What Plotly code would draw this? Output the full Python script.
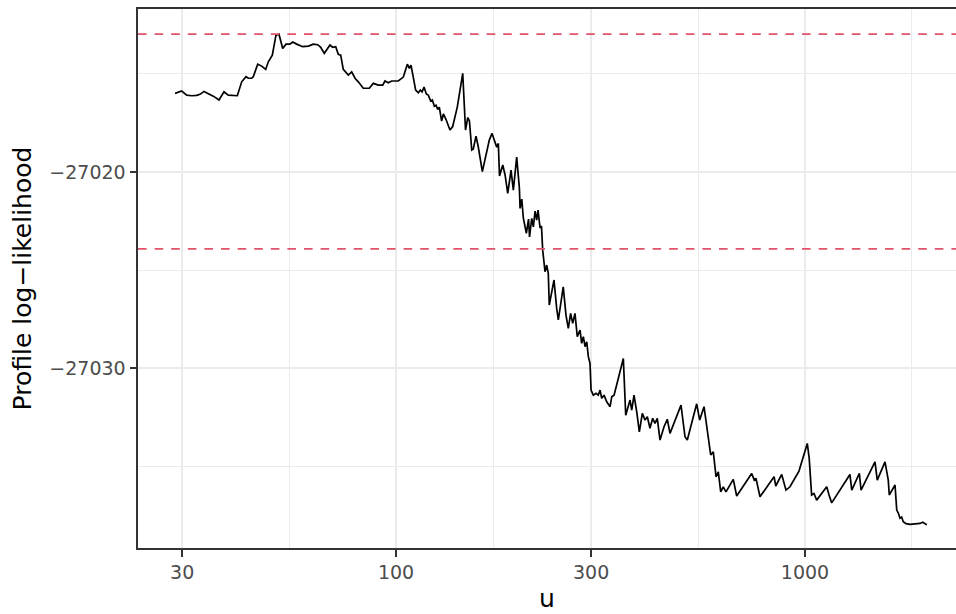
import plotly.graph_objects as go

# Threshold u and profile log-likelihood at each threshold
u = [28.83, 29.92, 30.78, 31.66, 32.56, 33.18, 33.93, 34.76, 35.75, 36.92,
     37.97, 38.90, 40.93, 41.95, 42.98, 43.54, 44.38, 44.78, 45.91, 46.95,
     48.02, 48.73, 49.84, 50.88, 51.74, 52.84, 53.83, 55.05, 55.90, 57.17,
     59.14, 61.04, 62.78, 64.36, 65.45, 66.79, 68.96, 70.02, 71.22, 72.26,
     73.25, 74.32, 76.45, 77.93, 79.40, 80.87, 83.18, 86.04, 88.02, 90.50,
     92.79, 93.99, 95.76, 97.61, 101.3, 104.2, 106.6, 107.8, 108.8, 110.2,
     111.7, 113.4, 114.7, 115.8, 117.1, 118.6, 119.9, 121.6, 122.7, 124.1,
     125.3, 126.5, 127.6, 129.3, 130.6, 132.7, 135.5, 137.6, 141.2, 145.6,
     146.9, 147.9, 149.8, 151.2, 153.2, 154.5, 156.9, 158.9, 162.6, 167.6,
     169.1, 171.7, 173.6, 176.3, 177.9, 179.1, 182.4, 184.8, 187.6, 191.1,
     193.6, 197.3, 200.3, 201.1, 203.0, 204.8, 208.3, 210.9, 212.1, 214.7,
     216.7, 218.8, 220.8, 222.5, 225.0, 226.8, 228.4, 230.1, 231.4, 233.6,
     235.7, 237.0, 243.4, 247.1, 249.4, 256.4, 260.4, 263.8, 267.3, 270.4,
     273.9, 277.5, 281.8, 284.4, 287.1, 289.9, 292.7, 295.3, 298.1, 299.9,
     303.7, 308.3, 312.3, 315.4, 318.4, 322.6, 327.5, 333.7, 336.9, 341.3,
     359.6, 364.5, 373.4, 377.0, 381.9, 387.8, 393.5, 400.2, 406.3, 411.6,
     417.8, 424.2, 429.8, 435.4, 442.1, 452.2, 460.6, 467.7, 485.7, 497.6,
     508.9, 515.5, 543.5, 552.7, 566.4, 575.1, 581.0, 588.1, 596.8, 606.0,
     613.8, 622.2, 631.2, 640.9, 667.8, 680.7, 740.8, 751.6, 758.9, 776.2,
     840.2, 848.4, 877.1, 898.5, 919.0, 966.7, 1013, 1024, 1038, 1052,
     1068, 1130, 1145, 1162, 1288, 1301, 1358, 1371, 1483, 1502,
     1569, 1598, 1607, 1660, 1676, 1691, 1707, 1723, 1739, 1766,
     1806, 1868, 1911, 1940, 1985]

loglik = [-27015.99, -27015.87, -27016.08, -27016.11, -27016.09, -27016.04, -27015.89, -27015.99, -27016.13, -27016.33,
          -27015.91, -27016.08, -27016.11, -27015.40, -27015.14, -27015.22, -27015.22, -27015.14, -27014.50, -27014.60,
          -27014.77, -27014.38, -27014.04, -27013.02, -27012.97, -27013.70, -27013.48, -27013.48, -27013.37, -27013.48,
          -27013.61, -27013.58, -27013.48, -27013.51, -27013.64, -27013.95, -27013.53, -27013.64, -27013.61, -27014.00,
          -27014.04, -27014.77, -27015.06, -27014.89, -27015.22, -27015.40, -27015.73, -27015.73, -27015.48, -27015.57,
          -27015.57, -27015.36, -27015.45, -27015.36, -27015.36, -27015.16, -27014.50, -27014.71, -27014.55, -27015.16,
          -27015.82, -27015.96, -27015.82, -27015.92, -27015.67, -27016.02, -27016.08, -27016.38, -27016.33, -27016.64,
          -27016.59, -27016.81, -27016.69, -27017.40, -27017.04, -27017.35, -27017.86, -27017.68, -27016.69, -27014.97,
          -27016.84, -27017.86, -27017.22, -27017.40, -27018.88, -27018.83, -27018.17, -27018.71, -27019.98, -27018.62,
          -27018.37, -27018.03, -27018.29, -27018.73, -27018.54, -27020.20, -27019.64, -27020.15, -27021.09, -27019.90,
          -27020.92, -27019.24, -27020.82, -27021.85, -27021.38, -27022.34, -27023.12, -27022.40, -27023.31, -27022.36,
          -27022.79, -27021.99, -27022.45, -27021.94, -27022.85, -27022.75, -27023.98, -27024.79, -27025.08, -27024.74,
          -27025.16, -27026.78, -27025.50, -27026.95, -27027.54, -27025.85, -27027.29, -27027.97, -27027.20, -27027.71,
          -27027.20, -27028.39, -27028.05, -27028.73, -27028.39, -27028.90, -27028.65, -27029.41, -27029.75, -27031.11,
          -27031.37, -27031.28, -27031.37, -27031.11, -27031.53, -27031.37, -27031.71, -27031.96, -27031.45, -27031.37,
          -27029.50, -27032.39, -27031.62, -27032.13, -27031.37, -27032.22, -27033.24, -27032.30, -27032.64, -27032.47,
          -27033.06, -27032.55, -27032.81, -27032.55, -27033.66, -27032.98, -27032.60, -27033.32, -27032.39, -27031.88,
          -27033.49, -27033.66, -27031.81, -27032.64, -27031.96, -27032.90, -27033.66, -27034.42, -27034.26, -27035.53,
          -27035.28, -27036.30, -27036.04, -27036.30, -27035.66, -27036.51, -27035.36, -27035.70, -27035.61, -27036.55,
          -27035.53, -27036.00, -27035.41, -27036.21, -27036.04, -27035.24, -27033.83, -27034.59, -27036.46, -27036.38,
          -27036.72, -27036.04, -27036.46, -27036.86, -27035.41, -27036.21, -27035.36, -27036.21, -27034.77, -27035.70,
          -27034.77, -27035.70, -27036.46, -27035.95, -27037.23, -27037.38, -27037.64, -27037.58, -27037.82, -27037.92,
          -27037.96, -27037.93, -27037.91, -27037.85, -27037.97]

# Reference levels: maximum and lower cut-off
ref_levels = [-27012.97, -27023.92]

x_ticks = [30, 100, 300, 1000]
x_tick_labels = ["30", "100", "300", "1000"]
x_minor = [54.77, 173.2, 547.7, 1826]
y_ticks = [-27020, -27030]
y_tick_labels = ["\u221227020", "\u221227030"]
y_minor = [-27015, -27025, -27035]

FONT = "DejaVu Sans"
GRID = "#EBEBEB"
DARK = "#333333"

fig = go.Figure()
fig.add_trace(go.Scatter(
    x=u, y=loglik, mode="lines",
    line=dict(color="black", width=1.7),
    hoverinfo="skip", showlegend=False,
))

for lvl in ref_levels:
    fig.add_shape(type="line", xref="paper", x0=0, x1=1, yref="y", y0=lvl, y1=lvl,
                  line=dict(color="#DF536B", width=1.7, dash="8.6px,8px"), layer="above")

fig.update_layout(
    width=956, height=614,
    margin=dict(l=138, r=0, t=9, b=66),
    paper_bgcolor="white", plot_bgcolor="white",
    showlegend=False,
    font=dict(family=FONT, color="black"),
)

fig.update_xaxes(
    type="log", range=[1.3692, 3.3692],
    tickmode="array", tickvals=x_ticks, ticktext=x_tick_labels,
    tickfont=dict(family=FONT, size=19, color="#4D4D4D"),
    ticks="outside", ticklen=6.5, tickwidth=2, tickcolor=DARK,
    showgrid=True, gridcolor=GRID, gridwidth=1.9,
    minor=dict(tickmode="array", tickvals=x_minor, showgrid=True,
               gridcolor=GRID, gridwidth=1, ticks=""),
    showline=True, linecolor=DARK, linewidth=2, mirror=True,
    zeroline=False,
    title=dict(text="u", font=dict(family=FONT, size=25, color="black"), standoff=7),
)

fig.update_yaxes(
    range=[-27039.16, -27011.69],
    tickmode="array", tickvals=y_ticks, ticktext=y_tick_labels,
    tickfont=dict(family=FONT, size=19, color="#4D4D4D"),
    ticks="outside", ticklen=6.5, tickwidth=2, tickcolor=DARK,
    showgrid=True, gridcolor=GRID, gridwidth=1.9,
    minor=dict(tickmode="array", tickvals=y_minor, showgrid=True,
               gridcolor=GRID, gridwidth=1, ticks=""),
    showline=True, linecolor=DARK, linewidth=2, mirror=False,
    zeroline=False,
    title=dict(text="Profile log\u2212likelihood", font=dict(family=FONT, size=25, color="black"), standoff=11),
)

fig.write_html("out.html")
